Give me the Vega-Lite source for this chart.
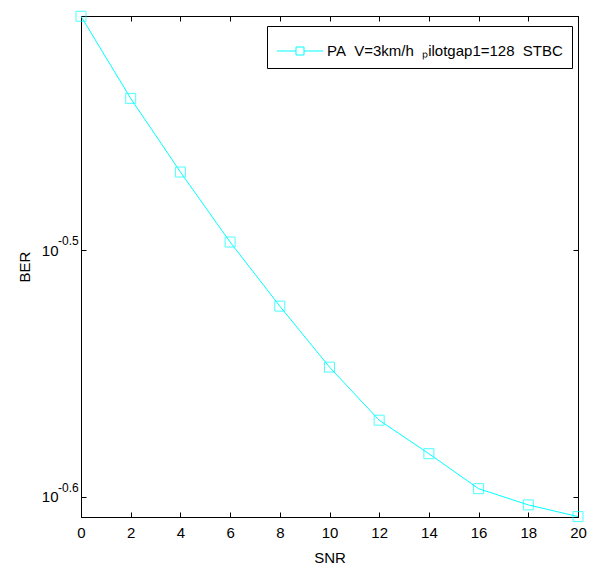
{
  "$schema": "https://vega.github.io/schema/vega-lite/v6.json",
  "width": 497,
  "height": 501,
  "autosize": {"type": "none"},
  "padding": {"left": 81, "top": 16, "right": 12, "bottom": 48},
  "background": "white",
  "config": {
    "view": {"stroke": "black", "strokeWidth": 1},
    "font": "Liberation Sans",
    "axis": {
      "domainColor": "black",
      "tickColor": "black",
      "tickSize": -5,
      "grid": false,
      "labelFont": "Liberation Sans",
      "labelFontSize": 15,
      "labelColor": "black",
      "titleFont": "Liberation Sans",
      "titleFontSize": 15,
      "titleFontWeight": "normal",
      "titleColor": "black"
    }
  },
  "data": {
    "values": [
      {"snr": 0, "ber": 0.3933, "s": "PA\u00a0\u00a0V=3km/h\u00a0\u00a0\u209ailotgap1=128\u00a0\u00a0STBC"},
      {"snr": 2, "ber": 0.3643, "s": "PA\u00a0\u00a0V=3km/h\u00a0\u00a0\u209ailotgap1=128\u00a0\u00a0STBC"},
      {"snr": 4, "ber": 0.3401, "s": "PA\u00a0\u00a0V=3km/h\u00a0\u00a0\u209ailotgap1=128\u00a0\u00a0STBC"},
      {"snr": 6, "ber": 0.3186, "s": "PA\u00a0\u00a0V=3km/h\u00a0\u00a0\u209ailotgap1=128\u00a0\u00a0STBC"},
      {"snr": 8, "ber": 0.3001, "s": "PA\u00a0\u00a0V=3km/h\u00a0\u00a0\u209ailotgap1=128\u00a0\u00a0STBC"},
      {"snr": 10, "ber": 0.2835, "s": "PA\u00a0\u00a0V=3km/h\u00a0\u00a0\u209ailotgap1=128\u00a0\u00a0STBC"},
      {"snr": 12, "ber": 0.2698, "s": "PA\u00a0\u00a0V=3km/h\u00a0\u00a0\u209ailotgap1=128\u00a0\u00a0STBC"},
      {"snr": 14, "ber": 0.2615, "s": "PA\u00a0\u00a0V=3km/h\u00a0\u00a0\u209ailotgap1=128\u00a0\u00a0STBC"},
      {"snr": 16, "ber": 0.2531, "s": "PA\u00a0\u00a0V=3km/h\u00a0\u00a0\u209ailotgap1=128\u00a0\u00a0STBC"},
      {"snr": 18, "ber": 0.2493, "s": "PA\u00a0\u00a0V=3km/h\u00a0\u00a0\u209ailotgap1=128\u00a0\u00a0STBC"},
      {"snr": 20, "ber": 0.2466, "s": "PA\u00a0\u00a0V=3km/h\u00a0\u00a0\u209ailotgap1=128\u00a0\u00a0STBC"}
    ]
  },
  "resolve": {"axis": {"x": "independent", "y": "independent"}},
  "layer": [
    {
      "mark": {"type": "line", "strokeWidth": 1},
      "encoding": {
        "x": {
          "field": "snr", "type": "quantitative",
          "scale": {"domain": [0, 20], "nice": false, "zero": false},
          "axis": {"values": [0, 2, 4, 6, 8, 10, 12, 14, 16, 18, 20], "title": "SNR", "labelPadding": 13, "titlePadding": 10, "labelFlush": false}
        },
        "y": {
          "field": "ber", "type": "quantitative",
          "scale": {"type": "log", "domain": [0.2465, 0.3934], "nice": false, "zero": false},
          "axis": {"values": [0.251189, 0.316228], "labelExpr": "'10'", "title": "BER", "labelPadding": 28, "titlePadding": 9}
        },
        "color": {
          "field": "s", "type": "nominal",
          "scale": {"range": ["#00FFFF"]},
          "legend": {
            "title": null,
            "orient": "none",
            "legendX": 186,
            "legendY": 10,
            "strokeColor": "black",
            "fillColor": "white",
            "padding": 9,
            "symbolType": "M-1.484,0H-0.258M0.258,0H1.484M-0.258,-0.258H0.258V0.258H-0.258Z",
            "symbolSize": 961,
            "symbolStrokeWidth": 1,
            "symbolStrokeColor": "#00FFFF",
            "symbolFillColor": "transparent",
            "symbolOffset": 8,
            "labelOffset": 11,
            "labelFont": "Liberation Sans",
            "labelFontSize": 15,
            "labelColor": "black",
            "labelLimit": 400
          }
        }
      }
    },
    {
      "mark": {"type": "point", "shape": "square", "filled": false, "size": 100, "strokeWidth": 1, "color": "#00FFFF"},
      "encoding": {
        "x": {
          "field": "snr", "type": "quantitative",
          "axis": {"orient": "top", "values": [0, 2, 4, 6, 8, 10, 12, 14, 16, 18, 20], "labels": false, "title": null}
        },
        "y": {
          "field": "ber", "type": "quantitative",
          "axis": {"orient": "right", "values": [0.251189, 0.316228], "labels": false, "title": null}
        }
      }
    },
    {
      "data": {"values": [{"snr": 0, "ber": 0.316228, "e": "-0.5"}, {"snr": 0, "ber": 0.251189, "e": "-0.6"}]},
      "mark": {"type": "text", "align": "left", "baseline": "middle", "dx": -23, "dy": -9, "fontSize": 12, "font": "Liberation Sans", "color": "black"},
      "encoding": {
        "x": {"field": "snr", "type": "quantitative", "axis": null},
        "y": {"field": "ber", "type": "quantitative", "axis": null},
        "text": {"field": "e"}
      }
    }
  ]
}
